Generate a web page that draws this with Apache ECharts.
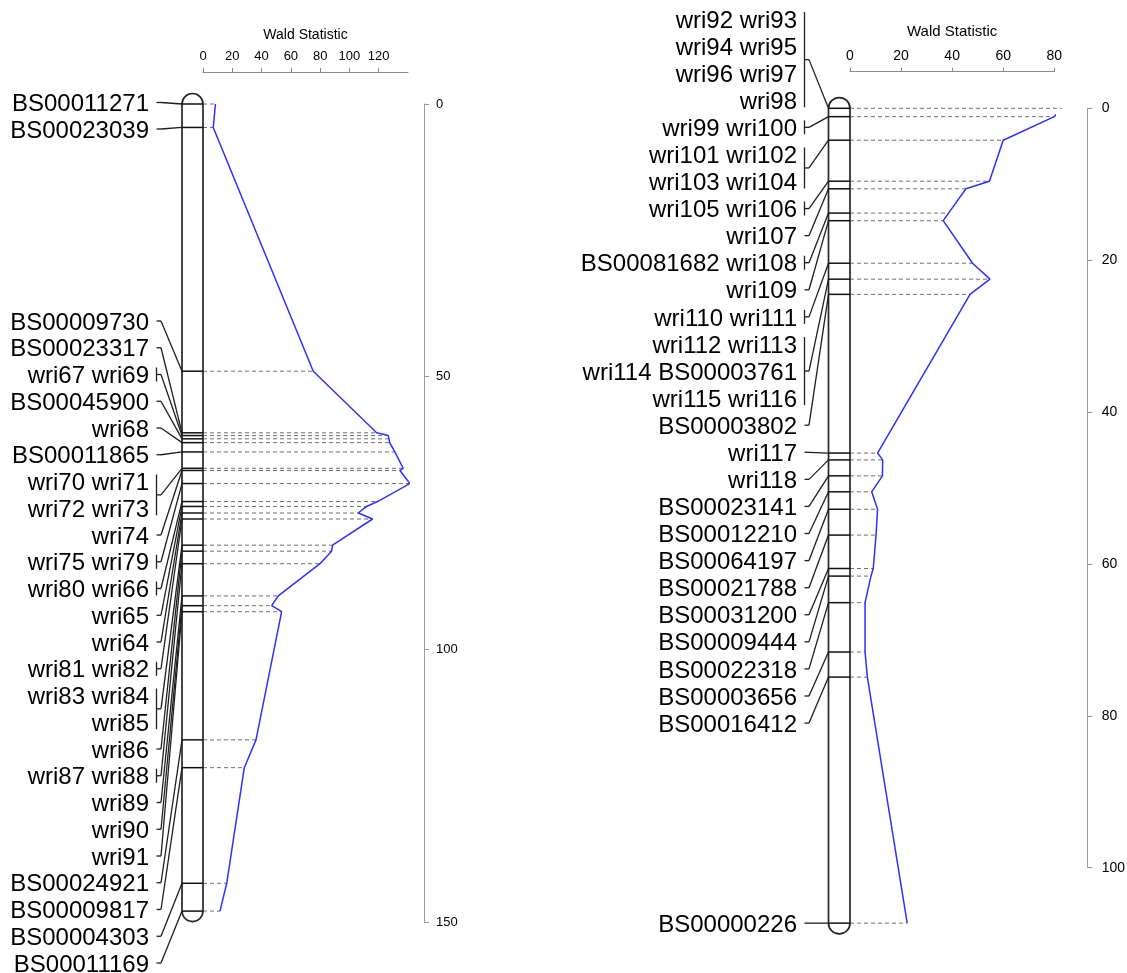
<!DOCTYPE html>
<html>
<head>
<meta charset="utf-8">
<script src="https://cdn.jsdelivr.net/npm/echarts@6/dist/echarts.min.js"></script>
<style>
  html, body { margin: 0; padding: 0; background: #fff; }
  #chart { width: 1127px; height: 973px; }
</style>
</head>
<body>
<div id="chart"></div>
<script>
// ---- Linkage group, left map: locus positions (cM), Wald statistic, marker names per locus
const leftPositions = [0, 4.3, 49.0, 60.3, 60.8, 61.4, 62.1, 63.8, 66.8, 67.2, 69.6, 72.9, 73.8,
  75.0, 76.1, 80.9, 82.0, 84.3, 90.2, 92.0, 93.1, 116.6, 121.7, 142.9, 148.0];
const leftWald = [8.5, 7.0, 75.3, 118.6, 126.5, 127.0, 127.5, 131.0, 136.7, 134.5, 141.3, 119.2, 111.7,
  106.0, 115.8, 88.5, 87.8, 79.9, 51.4, 46.9, 53.7, 36.2, 28.2, 16.2, 11.6];
const leftMarkers = [
  ['BS00011271'], ['BS00023039'], ['BS00009730'], ['BS00023317'], ['wri67 wri69'],
  ['BS00045900'], ['wri68'], ['BS00011865'], ['wri70 wri71', 'wri72 wri73'], ['wri74'],
  ['wri75 wri79'], ['wri80 wri66'], ['wri65'], ['wri64'], ['wri81 wri82'],
  ['wri83 wri84', 'wri85'], ['wri86'], ['wri87 wri88'], ['wri89'], ['wri90'], ['wri91'],
  ['BS00024921'], ['BS00009817'], ['BS00004303'], ['BS00011169']
];

// ---- Linkage group, right map
const rightPositions = [0, 1.1, 4.2, 9.6, 10.6, 13.8, 14.8, 20.4, 22.5, 24.5, 45.4, 46.3, 48.4,
  50.5, 52.8, 56.2, 60.6, 61.6, 65.1, 71.6, 74.9, 107.3];
const rightWald = [82.9, 80.0, 60.0, 54.6, 45.4, 38.6, 36.5, 48.0, 54.8, 47.0, 10.8, 12.8, 12.7,
  8.5, 10.8, 10.2, 9.1, 8.2, 5.9, 5.9, 6.8, 22.4];
const rightMarkers = [
  ['wri92 wri93', 'wri94 wri95', 'wri96 wri97', 'wri98'], ['wri99 wri100'],
  ['wri101 wri102', 'wri103 wri104'], ['wri105 wri106'], ['wri107'], ['BS00081682 wri108'],
  ['wri109'], ['wri110 wri111'], ['wri112 wri113', 'wri114 BS00003761', 'wri115 wri116'],
  ['BS00003802'], ['wri117'], ['wri118'], ['BS00023141'], ['BS00012210'], ['BS00064197'],
  ['BS00021788'], ['BS00031200'], ['BS00009444'], ['BS00022318'], ['BS00003656'],
  ['BS00016412'], ['BS00000226']
];

const FONT = '"Liberation Sans", Arial, Helvetica, sans-serif';

// Label rows: stacked slots in pixels, measured from the 0 cM line of each map.
function leftSlots(yOf, n) {
  const y0 = yOf(0);
  const slots = [y0 - 1.5, y0 + 25];
  for (let i = 2; i < n; i++) slots.push(y0 + 217 + (i - 2) * 26.75);
  return slots;
}
function rightSlots(yOf, n, lastPos) {
  const y0 = yOf(0);
  const slots = [];
  for (let i = 0; i < n - 1; i++) slots.push(y0 - 89.3 + i * 27.08);
  slots.push(yOf(lastPos));
  return slots;
}

function hasSeveral(name) { return name.indexOf(' ') >= 0; }

// Draws chromosome bar, marker ticks, dashed guides, marker names and connectors.
function mapSeries(idx, positions, wald, markers, opt) {
  return {
    type: 'custom',
    xAxisIndex: idx,
    yAxisIndex: idx,
    clip: false,
    silent: true,
    z: 2,
    data: [[0, 0]],
    renderItem: function (params, api) {
      const kids = [];
      const yOf = p => api.coord([0, p])[1];
      const xR = api.coord([0, 0])[0];
      const xL = xR - opt.barWidth;
      const r = opt.barWidth / 2;
      const n = positions.length;
      const yTop = yOf(positions[0]);
      const yBot = yOf(positions[n - 1]);

      positions.forEach((p, i) => {
        const yy = yOf(p);
        const xw = api.coord([wald[i], p])[0];
        kids.push({ type: 'line', shape: { x1: xR, y1: yy, x2: xw, y2: yy },
          style: { stroke: '#707070', lineWidth: 1, lineDash: [4, 3] } });
      });

      kids.push({ type: 'rect',
        shape: { x: xL, y: yTop - r, width: opt.barWidth, height: yBot - yTop + 2 * r, r: r },
        style: { fill: '#fff', stroke: '#262626', lineWidth: 1.7 } });

      positions.forEach(p => {
        const yy = yOf(p);
        kids.push({ type: 'line', shape: { x1: xL, y1: yy, x2: xR, y2: yy },
          style: { stroke: '#111', lineWidth: 1.5 } });
      });

      const rows = markers.reduce((s, g) => s + g.length, 0);
      const slots = opt.slots(yOf, rows, positions[n - 1]);
      const textRight = xL - opt.textGap;
      const bx = textRight + 7.5;
      const lineStyle = { stroke: '#1e1e1e', lineWidth: 1.3 };
      let row = 0;
      markers.forEach((group, i) => {
        const first = slots[row];
        const last = slots[row + group.length - 1];
        group.forEach((txt, k) => {
          kids.push({ type: 'text', style: {
            text: txt, x: textRight, y: slots[row + k] + opt.textDy,
            fill: '#000', font: '24px ' + FONT, align: 'right', verticalAlign: 'middle' } });
        });
        const multi = group.length > 1 || hasSeveral(group[0]);
        const mid = (first + last) / 2;
        if (multi) {
          kids.push({ type: 'line', shape: { x1: bx, y1: first - 7, x2: bx, y2: last + 7 }, style: lineStyle });
        }
        kids.push({ type: 'line', shape: { x1: bx, y1: mid, x2: bx + 4.5, y2: mid }, style: lineStyle });
        kids.push({ type: 'line', shape: { x1: bx + 4.5, y1: mid, x2: xL, y2: yOf(positions[i]) }, style: lineStyle });
        row += group.length;
      });
      return { type: 'group', children: kids };
    }
  };
}

function waldLine(idx, positions, wald) {
  return {
    type: 'line',
    xAxisIndex: idx,
    yAxisIndex: idx,
    data: positions.map((p, i) => [wald[i], p]),
    symbol: 'none',
    showSymbol: false,
    clip: false,
    silent: true,
    z: 3,
    lineStyle: { color: '#2f2fff', width: 1.5 }
  };
}

function waldAxis(idx, max, offset, nameGap, fs, nfs, hideMax) {
  return {
    gridIndex: idx, type: 'value', position: 'top', offset: offset,
    min: 0, max: max, interval: 20,
    name: 'Wald Statistic', nameLocation: 'middle', nameGap: nameGap,
    nameTextStyle: { fontSize: nfs, color: '#000', fontFamily: FONT },
    axisLine: { show: true, onZero: false, lineStyle: { color: '#8a8a8a', width: 1 } },
    axisTick: { show: true, inside: false, length: 4, lineStyle: { color: '#8a8a8a', width: 1 } },
    axisLabel: { show: true, fontSize: fs, color: '#000', fontFamily: FONT, margin: 9, showMaxLabel: !hideMax },
    splitLine: { show: false }
  };
}

function posAxis(idx, max, interval, offset, fs, margin) {
  return {
    gridIndex: idx, type: 'value', position: 'right', inverse: true, offset: offset,
    min: 0, max: max, interval: interval,
    axisLine: { show: true, onZero: false, lineStyle: { color: '#9a9a9a', width: 1 } },
    axisTick: { show: true, inside: false, length: 5, lineStyle: { color: '#9a9a9a', width: 1 } },
    axisLabel: { show: true, fontSize: fs, color: '#000', fontFamily: FONT, margin: margin },
    splitLine: { show: false }
  };
}

const chart = echarts.init(document.getElementById('chart'), null, { renderer: 'canvas' });
chart.setOption({
  animation: false,
  backgroundColor: '#fff',
  grid: [
    { left: 203, top: 104, width: 205, height: 818, containLabel: false, outerBoundsMode: 'none' },
    { left: 850, top: 108.3, width: 204.3, height: 759.4, containLabel: false, outerBoundsMode: 'none' }
  ],
  xAxis: [
    waldAxis(0, 140, 32, 30, 13, 14, true),
    waldAxis(1, 80, 36.6, 32, 14, 15, false)
  ],
  yAxis: [
    posAxis(0, 150, 50, 16, 13, 12),
    posAxis(1, 100, 20, 33.4, 14, 14)
  ],
  series: [
    mapSeries(0, leftPositions, leftWald, leftMarkers,
      { barWidth: 21, textGap: 33, textDy: 2, slots: leftSlots }),
    mapSeries(1, rightPositions, rightWald, rightMarkers,
      { barWidth: 21.5, textGap: 31.5, textDy: 2, slots: rightSlots }),
    waldLine(0, leftPositions, leftWald),
    waldLine(1, rightPositions, rightWald)
  ]
});
</script>
</body>
</html>
